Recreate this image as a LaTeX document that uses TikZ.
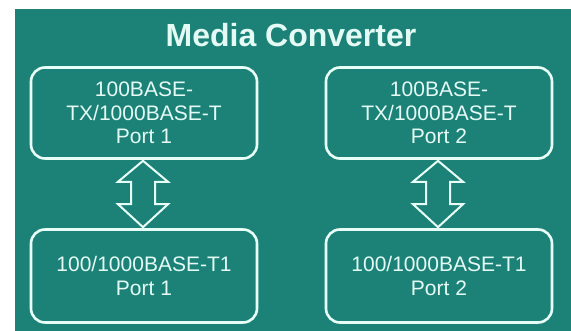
\documentclass[tikz,border=0pt]{standalone}
\usepackage{fontspec}
\setmainfont{Liberation Sans}
\usetikzlibrary{calc}
\definecolor{teal1}{RGB}{28,130,120}
\definecolor{line1}{RGB}{232,255,248}
\definecolor{txt1}{RGB}{228,250,244}
\tikzset{
  portbox/.style={draw=line1, line width=2.6pt, rounded corners=14pt, minimum width=226pt, text=txt1, align=center, font=\fontsize{21}{23.5}\selectfont, inner sep=0pt},
  blockarrow/.style={draw=line1, line width=2pt, line join=miter, fill=teal1},
  titletext/.style={text=txt1, font=\bfseries\fontsize{32}{35}\selectfont, inner sep=0pt}
}
\begin{document}
\begin{tikzpicture}[x=1pt,y=-1pt]
\useasboundingbox (0,0) rectangle (571,331);
\fill[white] (0,0) rectangle (571,331);
\fill[teal1] (15,9) rectangle (571,331);
\node[titletext, anchor=base] (title) at (291,47) {Media Converter};
\node[portbox, minimum height=91pt] (t1) at (144,113) {100BASE-\\TX/1000BASE-T\\Port 1};
\node[portbox, minimum height=93pt] (b1) at (144,276) {100/1000BASE-T1\\Port 1};
\node[portbox, minimum height=91pt] (t2) at (439,113) {100BASE-\\TX/1000BASE-T\\Port 2};
\node[portbox, minimum height=93pt] (b2) at (439,276) {100/1000BASE-T1\\Port 2};
\foreach \a/\b in {t1/b1,t2/b2}{
  \draw[blockarrow] let \p1=(\a.south), \p2=(\b.north) in
    (\x1-1pt,\y1-1pt) -- (\x1+24pt,\y1-22pt) -- (\x1+11pt,\y1-22pt) -- (\x1+11pt,\y2+24pt)
    -- (\x1+24pt,\y2+24pt) -- (\x1-1pt,\y2+1pt) -- (\x1-26pt,\y2+24pt) -- (\x1-13pt,\y2+24pt)
    -- (\x1-13pt,\y1-22pt) -- (\x1-26pt,\y1-22pt) -- cycle;
}
\end{tikzpicture}
\end{document}
